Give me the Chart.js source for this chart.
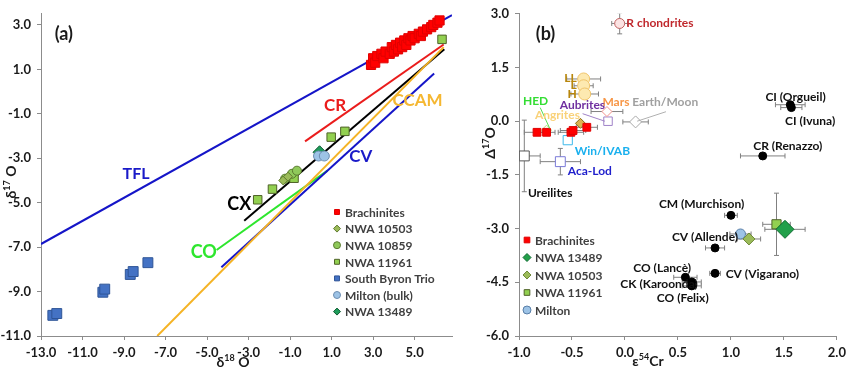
<!DOCTYPE html>
<html>
<head>
<meta charset="utf-8">
<script src="https://cdn.jsdelivr.net/npm/chart.js@4.4.1/dist/chart.umd.min.js"></script>
<style>
    body { margin: 0; background: #fff; width: 851px; height: 372px; overflow: hidden; position: relative; }
    #chartA { position: absolute; left: 0; top: 0; }
    #chartB { position: absolute; left: 460px; top: 0; }
</style>
</head>
<body>
<canvas id="chartA" width="460" height="372"></canvas>
<canvas id="chartB" width="391" height="372"></canvas>
<script>
const fontFam = 'Lato, "Open Sans", "DejaVu Sans", sans-serif';

// ---------- panel (a): d18O vs d17O ----------
const xTicksA = [-13, -11, -9, -7, -5, -3, -1, 1, 3, 5];
const yTicksA = [-11, -9, -7, -5, -3, -1, 1, 3];

const brachX = [2.9, 3.0, 3.1, 3.2, 3.4, 3.5, 3.6, 3.8, 3.9, 4.0, 4.1, 4.2, 4.3, 4.4, 4.5, 4.6, 4.7, 4.8, 4.9, 5.0, 5.2, 5.3, 5.4, 5.6, 5.8, 5.9, 6.1, 6.2];
const brachY = [1.2, 1.5, 1.3, 1.6, 1.7, 1.5, 1.8, 1.7, 2.0, 1.8, 2.1, 1.9, 2.2, 2.0, 2.3, 2.1, 2.4, 2.3, 2.5, 2.4, 2.6, 2.5, 2.7, 2.8, 2.9, 3.0, 3.1, 3.2];
const n10503X = [-1.33, -1.1];
const n10503Y = [-4.0, -3.83];
const n10859X = [-1.24, -0.91, -0.67];
const n10859Y = [-3.92, -3.70, -3.56];
const n11961X = [-2.56, -1.85, -0.81, 0.98, 1.64, 6.32];
const n11961Y = [-4.87, -4.39, -3.90, -2.05, -1.79, 2.35];
const sbtX = [-12.43, -12.24, -10.02, -9.93, -8.70, -8.56, -7.85];
const sbtY = [-10.07, -9.99, -9.03, -8.89, -8.23, -8.10, -7.70];
const miltonX = [0.37, 0.65];
const miltonY = [-2.90, -2.90];
const n13489X = [0.42];
const n13489Y = [-2.73];

// reference lines (end points)
const tflX = [-13, 6.8],   tflY = [-6.86, 3.44];
const crX = [-0.28, 6.4],  crY = [-2.24, 2.12];
const ccamX = [-7.40, 6.4], ccamY = [-11, 2.0];
const cvX = [-4.31, 5.94], cvY = [-7.91, 0.81];
const cxX = [-3.21, 6.43], cxY = [-5.81, 1.9];
const coX = [-4.54, 0.8],  coY = [-7.13, -3.56];

// ---------- panel (b): e54Cr vs D17O ----------
const xTicksB = [-1, -0.5, 0, 0.5, 1, 1.5, 2];
const yTicksB = [-6, -4.5, -3, -1.5, 0, 1.5, 3];

const ccX = [1.56, 1.57, 1.30, 1.00, 0.85, 0.85, 0.57, 0.63, 0.63];
const ccY = [0.46, 0.38, -0.97, -2.63, -3.54, -4.25, -4.36, -4.49, -4.60];
const ccXErr = [0.14, 0.10, 0.21, 0.06, 0.09, 0.05, 0.11, 0.09, 0.09];

const rchX = [-0.05], rchY = [2.73], rchXErr = [0.075], rchYErr = [0.29];
const ocX = [-0.39, -0.39, -0.38], ocY = [1.18, 0.99, 0.76], ocXErr = [0.16, 0.09, 0.13];
const marsX = [-0.17], marsY = [0.27], marsXErr = [0.15];
const earthX = [0.10], earthY = [-0.02], earthXErr = [0.12];
const aubX = [-0.16], aubY = [0.0];
const hedX = [-0.74], hedY = [-0.25];
const angX = [-0.42], angY = [-0.06];
const winX = [-0.54], winY = [-0.53];
const acaX = [-0.61], acaY = [-1.13], acaXErr = [0.19], acaYErr = [0.37];
const ureX = [-0.95], ureY = [-0.97], ureXErr = [0.15], ureYErr = [1.0];
const brachBX = [-0.83, -0.74, -0.51, -0.49, -0.36];
const brachBY = [-0.31, -0.31, -0.31, -0.26, -0.17];
const brachBXErr = [0.12, 0.08, 0.12, 0.12, 0.10];
const miltonBX = [1.09], miltonBY = [-3.15], miltonBXErr = [0.10];
const n10503BX = [1.17], n10503BY = [-3.29], n10503BXErr = [0.11];
const n11961BX = [1.43], n11961BY = [-2.88], n11961BXErr = [0.13], n11961BYErr = [0.87];
const n13489BX = [1.51], n13489BY = [-3.02], n13489BXErr = [0.19];

const zip = (xs, ys) => xs.map((v, i) => ({ x: v, y: ys[i] }));

function drawMarker(ctx, style, x, y, r, fill, stroke) {
    ctx.beginPath();
    if (style === 'circle') ctx.arc(x, y, r, 0, Math.PI * 2);
    else if (style === 'rect') { const s = r * Math.SQRT1_2; ctx.rect(x - s, y - s, 2 * s, 2 * s); }
    else { ctx.moveTo(x, y - r); ctx.lineTo(x + r, y); ctx.lineTo(x, y + r); ctx.lineTo(x - r, y); ctx.closePath(); }
    if (fill) { ctx.fillStyle = fill; ctx.fill(); }
    if (stroke) { ctx.strokeStyle = stroke; ctx.lineWidth = 1; ctx.stroke(); }
}

function drawRich(ctx, segs, cx, cy, rotate) {
    ctx.save();
    ctx.translate(cx, cy);
    if (rotate) ctx.rotate(-Math.PI / 2);
    let w = 0;
    segs.forEach(s => { ctx.font = `bold ${s[1]}px ${fontFam}`; w += ctx.measureText(s[0]).width; });
    let xx = -w / 2;
    ctx.fillStyle = '#1a1a1a';
    ctx.textAlign = 'left';
    ctx.textBaseline = 'alphabetic';
    segs.forEach(s => {
        ctx.font = `bold ${s[1]}px ${fontFam}`;
        ctx.fillText(s[0], xx, 5 + s[2]);
        xx += ctx.measureText(s[0]).width;
    });
    ctx.restore();
}

const errorBars = {
    id: 'errorBars',
    beforeDatasetsDraw(chart) {
        const { ctx, chartArea, scales: { x, y } } = chart;
        ctx.save();
        ctx.beginPath();
        ctx.rect(chartArea.left, chartArea.top, chartArea.right - chartArea.left, chartArea.bottom - chartArea.top);
        ctx.clip();
        ctx.strokeStyle = '#808080';
        ctx.lineWidth = 1;
        chart.data.datasets.forEach(ds => {
            if (!ds.xErr && !ds.yErr) return;
            ds.data.forEach((p, i) => {
                const px = x.getPixelForValue(p.x), py = y.getPixelForValue(p.y);
                const ex = ds.xErr ? ds.xErr[i] : 0, ey = ds.yErr ? ds.yErr[i] : 0;
                ctx.beginPath();
                if (ex) {
                    const l = x.getPixelForValue(p.x - ex), r = x.getPixelForValue(p.x + ex);
                    ctx.moveTo(l, py); ctx.lineTo(r, py);
                    ctx.moveTo(l, py - 2.5); ctx.lineTo(l, py + 2.5);
                    ctx.moveTo(r, py - 2.5); ctx.lineTo(r, py + 2.5);
                }
                if (ey) {
                    const t = y.getPixelForValue(p.y + ey), b = y.getPixelForValue(p.y - ey);
                    ctx.moveTo(px, t); ctx.lineTo(px, b);
                    ctx.moveTo(px - 2.5, t); ctx.lineTo(px + 2.5, t);
                    ctx.moveTo(px - 2.5, b); ctx.lineTo(px + 2.5, b);
                }
                ctx.stroke();
            });
        });
        ctx.restore();
    }
};

function notesPlugin(notes, leaders) {
    return {
        id: 'notes',
        afterDatasetsDraw(chart) {
            const { ctx, scales: { x, y } } = chart;
            ctx.save();
            leaders.forEach(l => {
                ctx.strokeStyle = l.color;
                ctx.lineWidth = 1;
                ctx.beginPath();
                ctx.moveTo(x.getPixelForValue(l.x1), y.getPixelForValue(l.y1));
                ctx.lineTo(x.getPixelForValue(l.x2), y.getPixelForValue(l.y2));
                ctx.stroke();
            });
            notes.forEach(n => {
                ctx.font = `bold ${n.size}px ${fontFam}`;
                ctx.fillStyle = n.color;
                ctx.textAlign = n.align || 'left';
                ctx.textBaseline = 'middle';
                ctx.fillText(n.text, x.getPixelForValue(n.x), y.getPixelForValue(n.y));
            });
            ctx.restore();
        }
    };
}

function legendPlugin(names, left, top, step, r) {
    return {
        id: 'boxLegend',
        afterDraw(chart) {
            const ctx = chart.ctx;
            ctx.save();
            names.forEach((name, i) => {
                const ds = chart.data.datasets.find(d => d.label === name);
                const yy = top + i * step;
                drawMarker(ctx, ds.pointStyle, left, yy, r, ds.backgroundColor, ds.borderColor);
                ctx.font = `bold 12px ${fontFam}`;
                ctx.textAlign = 'left';
                ctx.textBaseline = 'middle';
                ctx.fillStyle = '#404040';
                ctx.fillText(name, left + 8, yy + 1);
            });
            ctx.restore();
        }
    };
}

function titlesPlugin(xt, yt) {
    return {
        id: 'axisTitles',
        afterDraw(chart) {
            drawRich(chart.ctx, xt.segs, xt.x, xt.y, false);
            drawRich(chart.ctx, yt.segs, yt.x, yt.y, true);
        }
    };
}

function axis(min, max, ticks, isX, size) {
    return {
        type: 'linear', min: min, max: max,
        afterBuildTicks: s => { s.ticks = ticks.map(v => ({ value: v })); },
        afterFit: s => { if (isX) s.height = size; else s.width = size; },
        border: { color: '#8c8c8c', width: 1 },
        grid: { display: true, drawOnChartArea: false, drawTicks: true, tickLength: 4, color: '#8c8c8c' },
        ticks: {
            font: { family: fontFam, size: 13, weight: 'bold' },
            color: '#1a1a1a',
            padding: isX ? 5 : 6,
            callback: v => v.toFixed(1)
        }
    };
}

function lineSet(label, xs, ys, color) {
    return { label: label, data: zip(xs, ys), showLine: true, borderColor: color, borderWidth: 2, pointRadius: 0, order: 10 };
}

function pointSet(label, xs, ys, style, r, bg, border, extra) {
    return Object.assign({ label: label, data: zip(xs, ys), pointStyle: style, pointRadius: r,
        backgroundColor: bg, borderColor: border, borderWidth: 1, order: 1 }, extra || {});
}

const baseOptions = {
    responsive: false,
    animation: false,
    events: [],
    plugins: { legend: { display: false }, tooltip: { enabled: false } }
};

// ----- chart (a) -----
const notesA = [
    { text: '(a)', x: -11.9, y: 2.57, color: '#1a1a1a', size: 18, align: 'center' },
    { text: 'TFL', x: -8.42, y: -3.68, color: '#1a1ac8', size: 16, align: 'center' },
    { text: 'CR', x: 1.17, y: -0.64, color: '#ea1c1c', size: 17, align: 'center' },
    { text: 'CCAM', x: 5.14, y: -0.38, color: '#f5b731', size: 17, align: 'center' },
    { text: 'CV', x: 2.40, y: -2.93, color: '#1a1ac8', size: 17, align: 'center' },
    { text: 'CX', x: -3.45, y: -5.09, color: '#000000', size: 18, align: 'center' },
    { text: 'CO', x: -5.16, y: -7.25, color: '#2ee62e', size: 18, align: 'center' }
];

new Chart(document.getElementById('chartA'), {
    type: 'scatter',
    data: {
        datasets: [
            pointSet('Brachinites', brachX, brachY, 'rect', 6.5, '#ff0000', '#e00000'),
            pointSet('NWA 10503', n10503X, n10503Y, 'rectRot', 4.5, '#9bbb59', '#5f7a2e'),
            pointSet('NWA 10859', n10859X, n10859Y, 'circle', 4.5, '#8fc95a', '#5a7a30'),
            pointSet('NWA 11961', n11961X, n11961Y, 'rect', 6, '#92d050', '#4f6228'),
            pointSet('South Byron Trio', sbtX, sbtY, 'rect', 7, '#4472c4', '#2f5597'),
            pointSet('Milton (bulk)', miltonX, miltonY, 'circle', 5, '#9dc3e6', '#6d8db0'),
            pointSet('NWA 13489', n13489X, n13489Y, 'rectRot', 6.5, '#1e9c5a', '#0d5a30'),
            lineSet('TFL', tflX, tflY, '#1515c8'),
            lineSet('CR', crX, crY, '#ea1c1c'),
            lineSet('CCAM', ccamX, ccamY, '#f5b325'),
            lineSet('CV', cvX, cvY, '#1515c8'),
            lineSet('CX', cxX, cxY, '#000000'),
            lineSet('CO', coX, coY, '#2ee62e')
        ]
    },
    options: Object.assign({}, baseOptions, {
        layout: { padding: { top: 7, left: 0, right: 0, bottom: 0 } },
        scales: { x: axis(-13, 6.8, xTicksA, true, 36), y: axis(-11, 3.5, yTicksA, false, 41) }
    }),
    plugins: [
        notesPlugin(notesA, []),
        legendPlugin(['Brachinites', 'NWA 10503', 'NWA 10859', 'NWA 11961', 'South Byron Trio', 'Milton (bulk)', 'NWA 13489'], 337, 212, 16.6, 3.5),
        titlesPlugin(
            { segs: [['δ', 14, 0], ['18', 9, -6], [' O', 14, 0]], x: 233, y: 362 },
            { segs: [['δ', 14, 0], ['17', 9, -6], [' O', 14, 0]], x: 11, y: 182 }
        )
    ]
});

// ----- chart (b) -----
const notesB = [
    { text: '(b)', x: -0.75, y: 2.43, color: '#1a1a1a', size: 18, align: 'center' },
    { text: 'R chondrites', x: 0.012, y: 2.73, color: '#c0282d', size: 12 },
    { text: 'LL', x: -0.455, y: 1.19, color: '#b8860b', size: 12, align: 'right' },
    { text: 'L', x: -0.455, y: 1.0, color: '#b8860b', size: 12, align: 'right' },
    { text: 'H', x: -0.455, y: 0.76, color: '#b8860b', size: 12, align: 'right' },
    { text: 'Mars', x: -0.213, y: 0.54, color: '#f79646', size: 12 },
    { text: 'Earth/Moon', x: 0.068, y: 0.54, color: '#a0a0a0', size: 12 },
    { text: 'Aubrites', x: -0.616, y: 0.46, color: '#7030a0', size: 12 },
    { text: 'HED', x: -0.963, y: 0.57, color: '#33dd33', size: 12 },
    { text: 'Angrites', x: -0.85, y: 0.18, color: '#f9d27a', size: 12 },
    { text: 'Win/IVAB', x: -0.475, y: -0.83, color: '#1ab0ee', size: 12 },
    { text: 'Aca-Lod', x: -0.54, y: -1.40, color: '#1f1fcc', size: 12 },
    { text: 'Ureilites', x: -0.916, y: -2.0, color: '#111111', size: 12 },
    { text: 'CI (Orgueil)', x: 1.325, y: 0.675, color: '#111111', size: 12 },
    { text: 'CI (Ivuna)', x: 1.51, y: -0.01, color: '#111111', size: 12 },
    { text: 'CR (Renazzo)', x: 1.21, y: -0.69, color: '#111111', size: 12 },
    { text: 'CM (Murchison)', x: 0.32, y: -2.31, color: '#111111', size: 12 },
    { text: 'CV (Allende)', x: 0.443, y: -3.24, color: '#111111', size: 12 },
    { text: 'CV (Vigarano)', x: 0.95, y: -4.28, color: '#111111', size: 12 },
    { text: 'CO (Lancè)', x: 0.078, y: -4.11, color: '#111111', size: 12 },
    { text: 'CK (Karoonda)', x: -0.044, y: -4.55, color: '#111111', size: 12 },
    { text: 'CO (Felix)', x: 0.30, y: -4.93, color: '#111111', size: 12 }
];
const leadersB = [
    { x1: -0.80, y1: 0.38, x2: -0.71, y2: -0.2, color: '#55dd55' },
    { x1: -0.40, y1: 0.21, x2: -0.19, y2: 0.0, color: '#a083c8' },
    { x1: 0.387, y1: 0.265, x2: 0.115, y2: 0.0, color: '#b0b0b0' }
];

new Chart(document.getElementById('chartB'), {
    type: 'scatter',
    data: {
        datasets: [
            pointSet('NWA 13489', n13489BX, n13489BY, 'rectRot', 9, '#22a04a', '#0d6a30', { xErr: n13489BXErr }),
            pointSet('NWA 11961', n11961BX, n11961BY, 'rect', 6.5, '#92d050', '#4f6228', { xErr: n11961BXErr, yErr: n11961BYErr }),
            pointSet('NWA 10503', n10503BX, n10503BY, 'rectRot', 6, '#9bbb59', '#6f8a3a', { xErr: n10503BXErr }),
            pointSet('Milton', miltonBX, miltonBY, 'circle', 5, '#9dc3e6', '#5a7fa8', { xErr: miltonBXErr }),
            pointSet('Brachinites', brachBX, brachBY, 'rect', 5.5, '#ff0000', '#e00000', { xErr: brachBXErr }),
            pointSet('Carbonaceous', ccX, ccY, 'circle', 4, '#000000', '#000000', { xErr: ccXErr }),
            pointSet('R chondrites', rchX, rchY, 'circle', 5, '#fbe3e3', '#c06060', { xErr: rchXErr, yErr: rchYErr }),
            pointSet('OC', ocX, ocY, 'circle', 6, '#fde9b0', '#f0c46a', { xErr: ocXErr }),
            pointSet('Mars', marsX, marsY, 'rectRot', 5, '#ffffff', '#f4908a', { xErr: marsXErr }),
            pointSet('Earth/Moon', earthX, earthY, 'rectRot', 6, '#ffffff', '#a8a8a8', { xErr: earthXErr }),
            pointSet('Aubrites', aubX, aubY, 'rect', 6, '#ffffff', '#a083c8'),
            pointSet('HED', hedX, hedY, 'rectRot', 5, '#ffffff', '#b5d67a'),
            pointSet('Angrites', angX, angY, 'rectRot', 5, '#dcb450', '#8a6d1c'),
            pointSet('Win/IVAB', winX, winY, 'rect', 6.5, '#ffffff', '#3cb8ea'),
            pointSet('Aca-Lod', acaX, acaY, 'rect', 7, '#ffffff', '#7a7ad8', { xErr: acaXErr, yErr: acaYErr }),
            pointSet('Ureilites', ureX, ureY, 'rect', 7, '#ffffff', '#555555', { xErr: ureXErr, yErr: ureYErr })
        ]
    },
    options: Object.assign({}, baseOptions, {
        layout: { padding: { top: 7, left: 0, right: 12, bottom: 0 } },
        scales: { x: axis(-1, 2, xTicksB, true, 36), y: axis(-6, 3, yTicksB, false, 59) }
    }),
    plugins: [
        errorBars,
        notesPlugin(notesB, leadersB),
        legendPlugin(['Brachinites', 'NWA 13489', 'NWA 10503', 'NWA 11961', 'Milton'], 67, 240, 17.5, 4),
        titlesPlugin(
            { segs: [['ε', 14, 0], ['54', 9, -6], ['Cr', 14, 0]], x: 188, y: 361 },
            { segs: [['Δ', 14, 0], ['17', 9, -6], ['O', 14, 0]], x: 30, y: 143 }
        )
    ]
});
</script>
</body>
</html>
